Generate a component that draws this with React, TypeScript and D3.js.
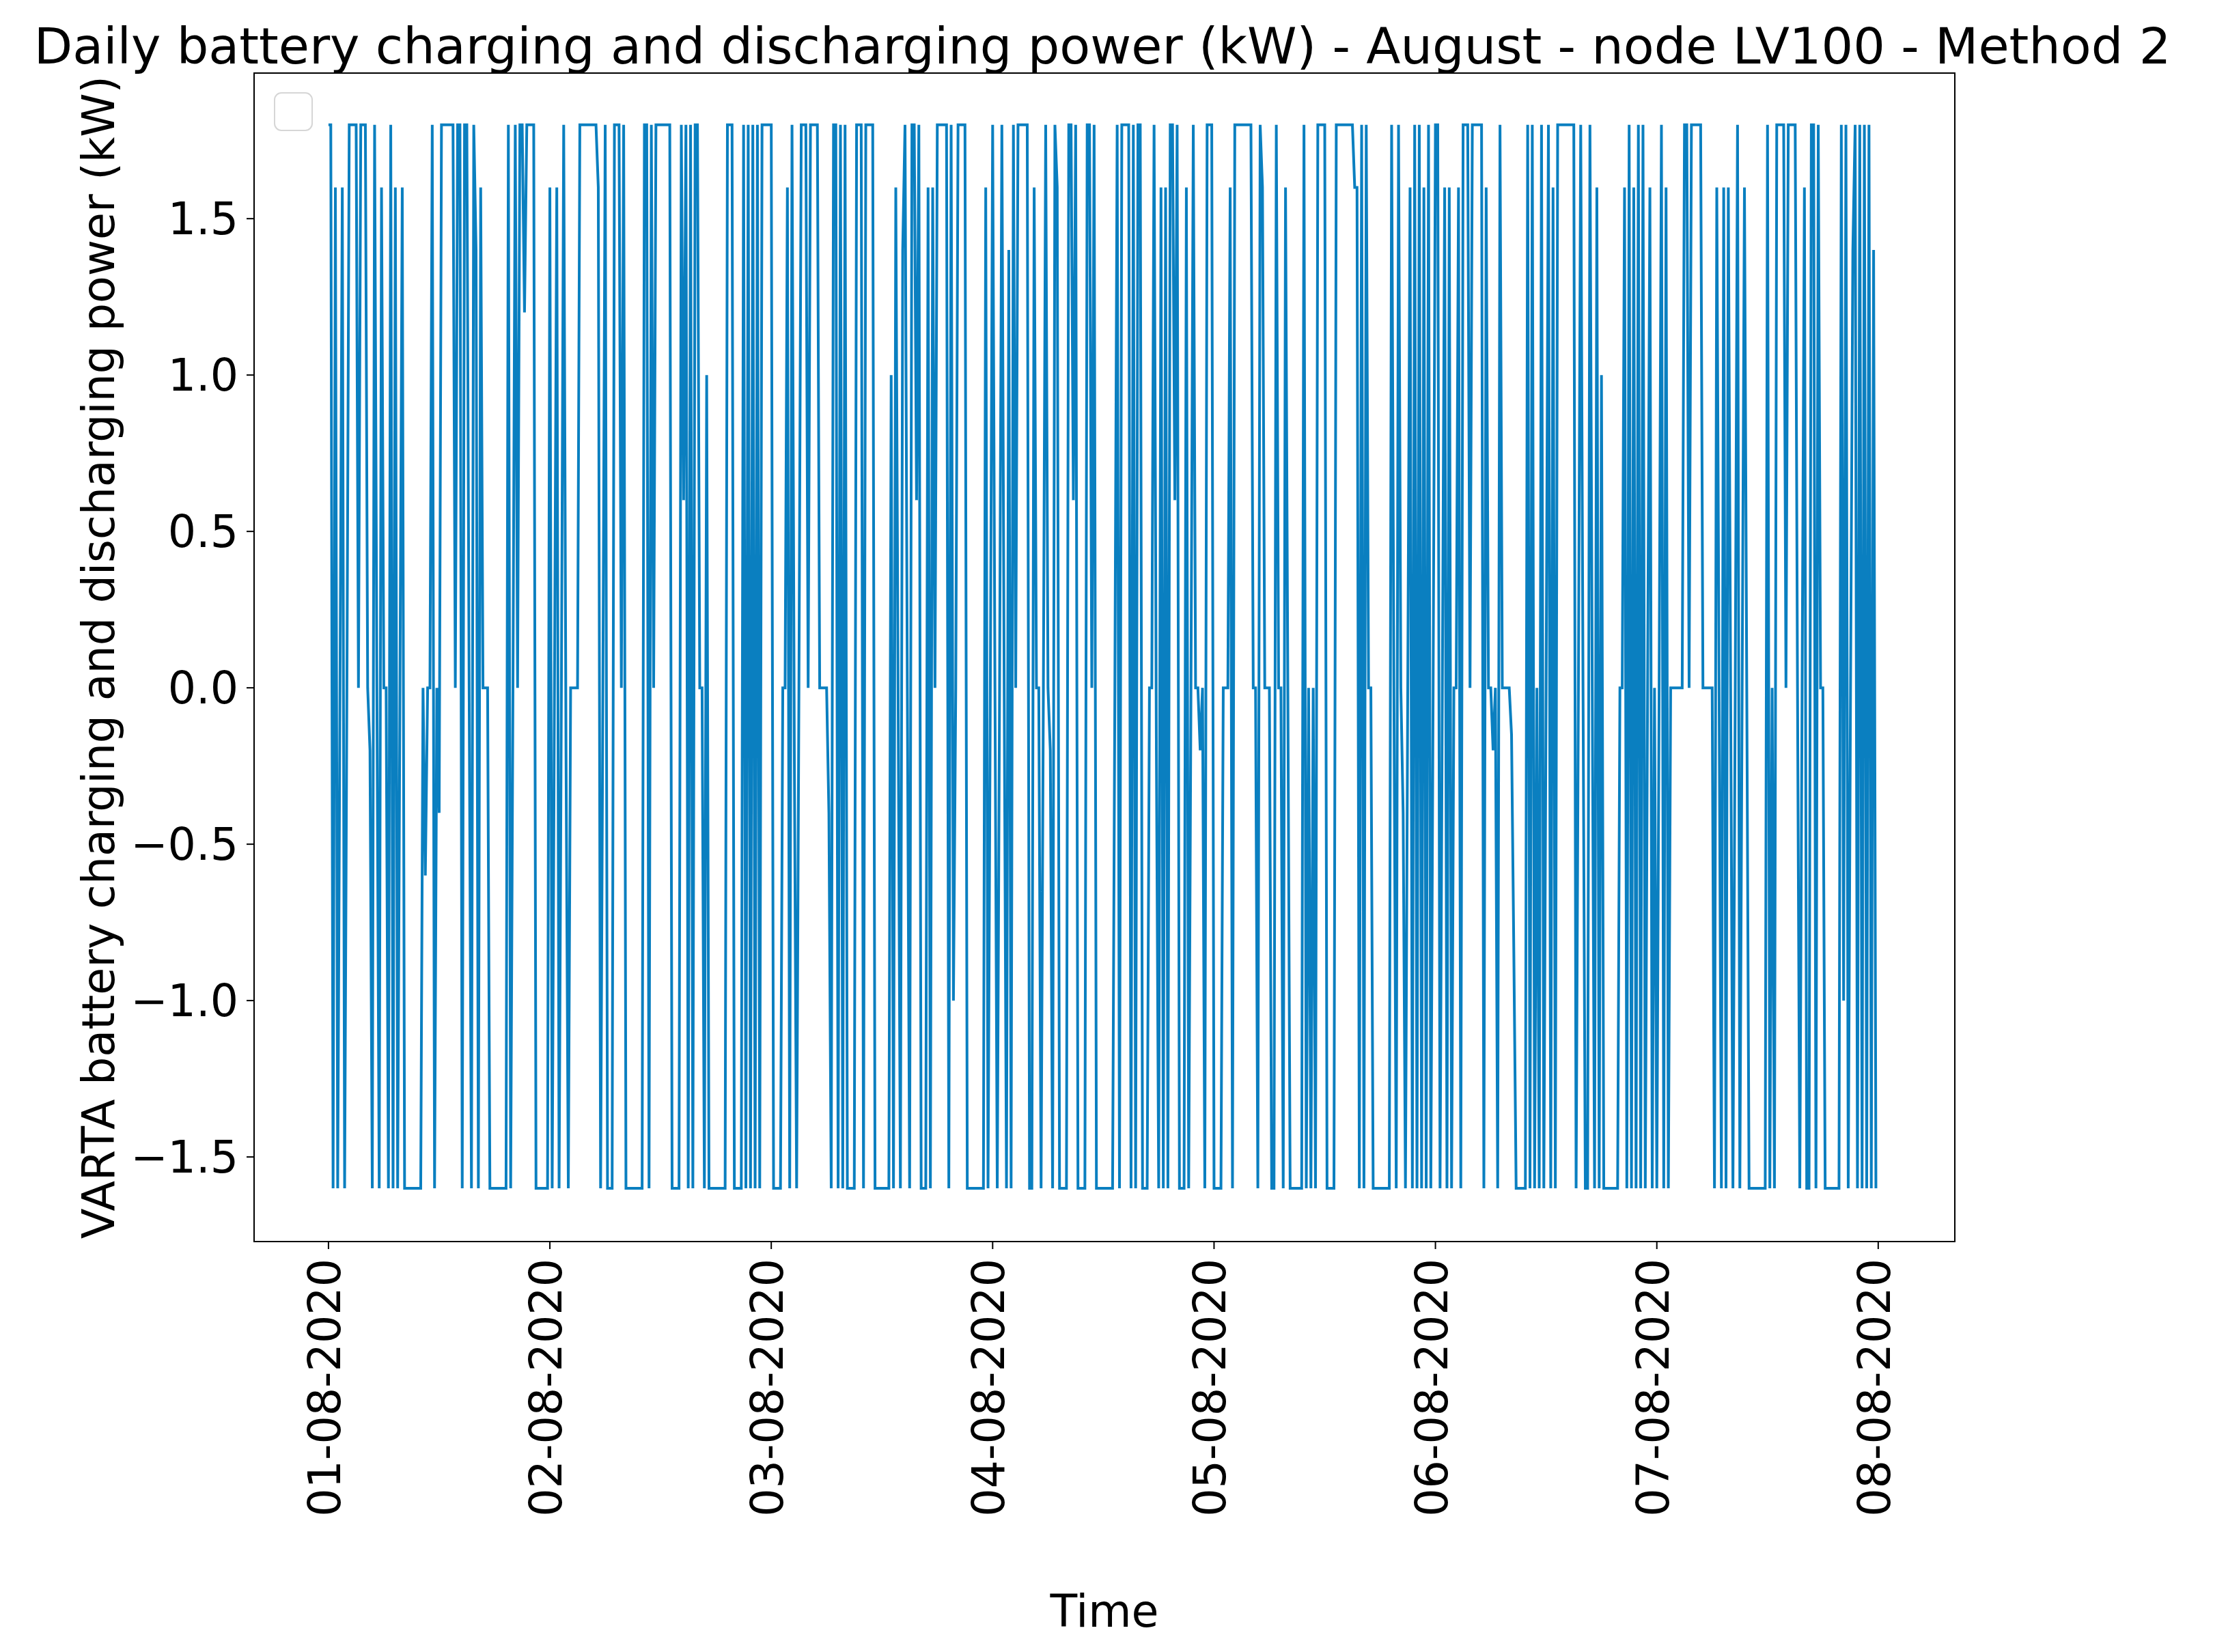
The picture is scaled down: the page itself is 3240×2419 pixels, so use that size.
import React from 'react';
import * as d3 from 'd3';

// Tick labels
const DAY_LABELS = ['01-08-2020', '02-08-2020', '03-08-2020', '04-08-2020', '05-08-2020', '06-08-2020', '07-08-2020', '08-08-2020'];
const Y_TICKS = [-1.5, -1.0, -0.5, 0.0, 0.5, 1.0, 1.5];

// 15-minute battery power values (kW), 96 per day
const DAY_01 = [
  1.8, 1.8, -1.6, 1.6, -1.6, 0, 1.6, -1.6, 0, 1.8,
  1.8, 1.8, 1.8, 0, 1.8, 1.8, 1.8, 0, -0.2, -1.6,
  1.8, 0, -1.6, 1.6, 0, 0, -1.6, 1.8, -1.6, 1.6,
  -1.6, 0, 1.6, -1.6, -1.6, -1.6, -1.6, -1.6, -1.6, -1.6,
  -1.6, 0, -0.6, 0, 0, 1.8, -1.6, 0, -0.4, 1.8,
  1.8, 1.8, 1.8, 1.8, 1.8, 0, 1.8, 1.8, -1.6, 1.8,
  1.8, 0, -1.6, 1.8, 1.4, -1.6, 1.6, 0, 0, 0,
  -1.6, -1.6, -1.6, -1.6, -1.6, -1.6, -1.6, -1.6, 1.8, -1.6,
  0, 1.8, 0, 1.8, 1.8, 1.2, 1.8, 1.8, 1.8, 1.8,
  -1.6, -1.6, -1.6, -1.6, -1.6, -1.6,
];
const DAY_02 = [
  1.6, -1.6, 0, 1.6, -1.6, 0, 1.8, -0.2, -1.6, 0,
  0, 0, 0, 1.8, 1.8, 1.8, 1.8, 1.8, 1.8, 1.8,
  1.8, 1.6, -1.6, 0, 1.8, -1.6, -1.6, -1.6, 1.8, 1.8,
  1.8, 0, 1.8, -1.6, -1.6, -1.6, -1.6, -1.6, -1.6, -1.6,
  -1.6, 1.8, 1.8, -1.6, 1.8, 0, 1.8, 1.8, 1.8, 1.8,
  1.8, 1.8, 1.8, -1.6, -1.6, -1.6, -1.6, 1.8, 0.6, 1.8,
  -1.6, 1.8, -1.6, 1.8, 1.8, 0, 0, -1.6, 1.0, -1.6,
  -1.6, -1.6, -1.6, -1.6, -1.6, -1.6, -1.6, 1.8, 1.8, 1.8,
  -1.6, -1.6, -1.6, -1.6, 1.8, -1.6, 1.8, -1.6, 1.8, -1.6,
  1.8, -1.6, 1.8, 1.8, 1.8, 1.8,
];
const DAY_03 = [
  1.8, -1.6, -1.6, -1.6, -1.6, 0, 0, 1.6, -1.6, 1.8,
  -0.2, -1.6, 0, 1.8, 1.8, 1.8, 0, 1.8, 1.8, 1.8,
  1.8, 0, 0, 0, 0, -0.4, -1.6, 1.8, 1.8, -1.6,
  1.8, -1.6, 1.8, -1.6, -1.6, -1.6, -1.6, 1.8, 1.8, 1.8,
  -1.6, 1.8, 1.8, 1.8, 1.8, -1.6, -1.6, -1.6, -1.6, -1.6,
  -1.6, -1.6, 1.0, -1.6, 1.6, 0, -1.6, 1.4, 1.8, 0,
  -1.6, 1.8, 1.8, 0.6, 1.8, -1.6, -1.6, -1.6, 1.6, -1.6,
  1.6, 0, 1.8, 1.8, 1.8, 1.8, 1.8, -1.6, 1.8, -1.0,
  0, 1.8, 1.8, 1.8, 1.8, -1.6, -1.6, -1.6, -1.6, -1.6,
  -1.6, -1.6, -1.6, 1.6, -1.6, 0,
];
const DAY_04 = [
  1.8, 0, -1.6, 0, 1.8, 0, -1.6, 1.4, -1.6, 1.8,
  0, 1.8, 1.8, 1.8, 1.8, 1.8, -1.6, -1.6, 1.6, 0,
  0, -1.6, 0, 1.8, 0, -0.2, -1.6, 1.8, 1.6, -1.6,
  -1.6, -1.6, -1.6, 1.8, 1.8, 0.6, 1.8, -1.6, -1.6, -1.6,
  -1.6, 1.8, 1.8, 0, 1.8, -1.6, -1.6, -1.6, -1.6, -1.6,
  -1.6, -1.6, -1.6, 0, 1.8, -1.6, 1.8, 1.8, 1.8, 1.8,
  -1.6, 1.8, -1.6, 1.8, 1.8, -1.6, -1.6, -1.6, 0, 0,
  1.8, -0.2, -1.6, 1.6, -1.6, 1.6, -1.6, 1.8, 1.8, 0.6,
  1.8, -1.6, -1.6, -1.6, 1.6, -1.6, 0, 1.8, 0, 0,
  -0.2, 0, -1.6, 1.8, 1.8, 1.8,
];
const DAY_05 = [
  -1.6, -1.6, -1.6, -1.6, 0, 0, 0, 1.6, -1.6, 1.8,
  1.8, 1.8, 1.8, 1.8, 1.8, 1.8, 1.8, 0, 0, -1.6,
  1.8, 1.6, 0, 0, 0, -1.6, -1.6, 1.8, 0, 0,
  -1.6, 1.6, 0, -1.6, -1.6, -1.6, -1.6, -1.6, -1.6, 1.8,
  -1.6, 0, -1.6, 0, -1.6, 1.8, 1.8, 1.8, 1.8, -1.6,
  -1.6, -1.6, -1.6, 1.8, 1.8, 1.8, 1.8, 1.8, 1.8, 1.8,
  1.8, 1.6, 1.6, -1.6, 1.8, -1.6, 1.8, 0, 0, -1.6,
  -1.6, -1.6, -1.6, -1.6, -1.6, -1.6, -1.6, 1.8, 0, -1.6,
  1.8, 0, -0.4, -1.6, 0, 1.6, -1.6, 1.8, -1.6, 1.8,
  -1.6, 1.6, -1.6, 1.8, -1.6, 0,
];
const DAY_06 = [
  1.8, 1.8, -1.6, 0, 1.6, -1.6, 1.6, -1.6, 0, 0,
  1.6, -1.6, 1.8, 1.8, 1.8, 0, 1.8, 1.8, 1.8, 1.8,
  1.8, -1.6, 1.6, 0, 0, -0.2, 0, -1.6, 1.8, 0,
  0, 0, 0, -0.15, -0.85, -1.6, -1.6, -1.6, -1.6, -1.6,
  1.8, -1.6, 1.8, -1.6, 0, -1.6, 1.8, -1.6, 0, 1.8,
  -1.6, 1.6, -1.6, 1.8, 1.8, 1.8, 1.8, 1.8, 1.8, 1.8,
  1.8, -1.6, 0, 1.8, 0, -1.6, -1.6, 1.8, 0, -1.6,
  1.6, -1.6, 1.0, -1.6, -1.6, -1.6, -1.6, -1.6, -1.6, -1.6,
  0, 0, 1.6, -1.6, 1.8, -1.6, 1.6, -1.6, 1.8, -1.6,
  1.8, -1.6, 0, 1.6, -1.6, 0,
];
const DAY_07 = [
  -1.6, 0, 1.8, -1.6, 1.6, -1.6, 0, 0, 0, 0,
  0, 0, 1.8, 1.8, 0, 1.8, 1.8, 1.8, 1.8, 1.8,
  0, 0, 0, 0, 0, -1.6, 1.6, 0, -1.6, 1.6,
  -1.6, 1.6, 0, -1.6, 0, 1.8, -1.6, 0, 1.6, 0,
  -1.6, -1.6, -1.6, -1.6, -1.6, -1.6, -1.6, -1.6, 1.8, -1.6,
  0, -1.6, 1.8, 1.8, 1.8, 1.8, 0, 1.8, 1.8, 1.8,
  1.8, 0, -1.6, 0, 1.6, -1.6, -1.6, 1.8, 1.8, -1.6,
  1.8, 0, 0, -1.6, -1.6, -1.6, -1.6, -1.6, -1.6, -1.6,
  1.8, -1.0, 1.8, -1.6, 0, 1.4, 1.8, -1.6, 1.8, -1.6,
  1.8, -1.6, 1.8, -1.6, 1.4, -1.6,
];

const SERIES_BY_DAY = [DAY_01, DAY_02, DAY_03, DAY_04, DAY_05, DAY_06, DAY_07];
const STEPS_PER_DAY = 96;

const FONT = '"DejaVu Sans", Verdana, sans-serif';
const LINE_COLOR = '#0a7fc0';

export default function App() {
  const W = 3240;
  const H = 2419;
  const left = 372, right = 2862, top = 107, bottom = 1818;

  const x = d3.scaleLinear().domain([-0.336, 7.346]).range([left, right]);
  const y = d3.scaleLinear().domain([-1.7705, 1.9655]).range([bottom, top]);

  const points: [number, number][] = [];
  SERIES_BY_DAY.forEach((day, d) => {
    day.forEach((v, i) => points.push([d + i / STEPS_PER_DAY, v]));
  });

  const line = d3.line<[number, number]>()
    .x((p) => x(p[0]))
    .y((p) => y(p[1]));

  const fmt = d3.format('.1f');
  const tickLen = 11;
  const fs = 65;

  return (
    <svg width={W} height={H} viewBox={`0 0 ${W} ${H}`}
      style={{ position: 'absolute', left: 0, top: 0, background: '#fff' }}
      fontFamily={FONT}>
      <rect x={0} y={0} width={W} height={H} fill="#fff" />
      <defs>
        <clipPath id="plot-clip">
          <rect x={left} y={top} width={right - left} height={bottom - top} />
        </clipPath>
      </defs>

      <path d={line(points) || ''} fill="none" stroke={LINE_COLOR} strokeWidth={4}
        strokeLinejoin="miter" clipPath="url(#plot-clip)" />

      {/* empty legend */}
      <rect x={402} y={136} width={55} height={55} rx={10} ry={10}
        fill="#fff" fillOpacity={0.8} stroke="#d6d6d6" strokeWidth={2} />

      {/* spines */}
      <rect x={left} y={top} width={right - left} height={bottom - top}
        fill="none" stroke="#000" strokeWidth={2} />

      {/* y ticks */}
      {Y_TICKS.map((t) => (
        <g key={`y${t}`}>
          <line x1={left - tickLen} x2={left} y1={y(t)} y2={y(t)} stroke="#000" strokeWidth={2} />
          <text x={left - tickLen - 12} y={y(t) + 23} textAnchor="end" fontSize={fs} fill="#000">
            {fmt(t)}
          </text>
        </g>
      ))}

      {/* x ticks */}
      {DAY_LABELS.map((lab, i) => (
        <g key={lab}>
          <line x1={x(i)} x2={x(i)} y1={bottom} y2={bottom + tickLen} stroke="#000" strokeWidth={2} />
          <text transform={`translate(${x(i) + 17},${bottom + tickLen + 14}) rotate(-90)`}
            textAnchor="end" fontSize={fs} fill="#000">
            {lab}
          </text>
        </g>
      ))}

      {/* labels */}
      <text x={(left + right) / 2} y={2382} textAnchor="middle" fontSize={fs} fill="#000">Time</text>
      <text transform={`translate(167,${(top + bottom) / 2}) rotate(-90)`} textAnchor="middle"
        fontSize={fs} fill="#000">
        VARTA battery charging and discharging power (kW)
      </text>
      <text x={(left + right) / 2 - 3} y={93} textAnchor="middle" fontSize={73.4} fill="#000">
        Daily battery charging and discharging power (kW) - August - node LV100 - Method 2
      </text>
    </svg>
  );
}
